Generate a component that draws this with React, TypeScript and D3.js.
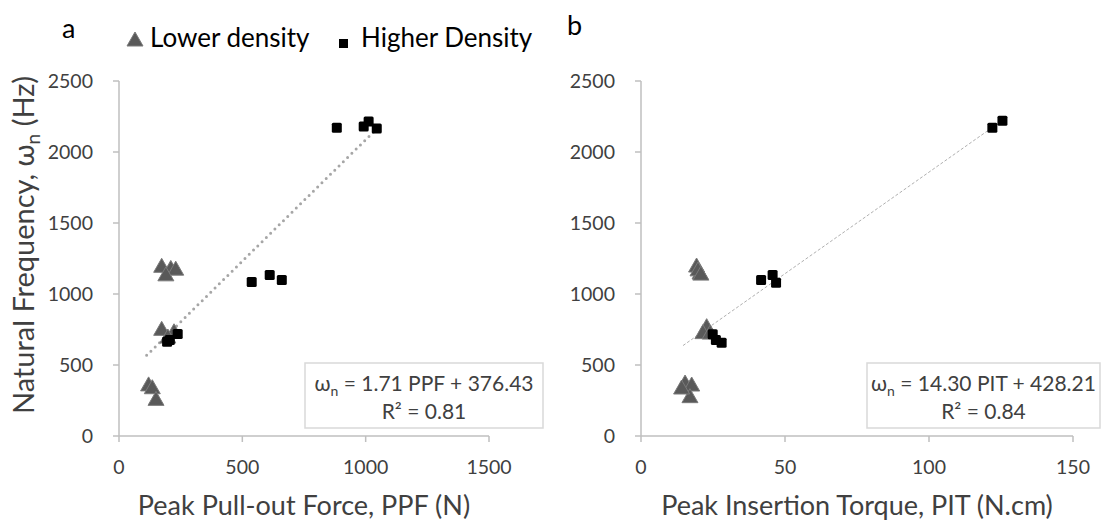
import React from 'react';
import * as d3 from 'd3';

// values
const freqTicks = [0, 500, 1000, 1500, 2000, 2500];
const ppfTicks = [0, 500, 1000, 1500];
const pitTicks = [0, 50, 100, 150];

const ppfLower = [173, 210, 230, 190, 173, 223, 198, 120, 135, 150];
const freqLowerA = [1195, 1180, 1175, 1135, 751, 734, 697, 360, 340, 258];
const ppfHigher = [195, 206, 238, 538, 611, 660, 883, 992, 1012, 1045];
const freqHigherA = [664, 676, 718, 1085, 1134, 1099, 2170, 2180, 2215, 2165];

const pitLower = [19.3, 20.5, 19.8, 20.8, 22.8, 21.5, 24, 15.3, 17.6, 17, 14.1];
const freqLowerB = [1197, 1148, 1170, 1140, 770, 728, 725, 373, 359, 277, 338];
const pitHigher = [24.9, 26, 28, 41.7, 45.7, 46.9, 122, 125.5];
const freqHigherB = [716, 676, 657, 1099, 1134, 1080, 2170, 2220];

const fitA = { slope: 1.71, intercept: 376.43, from: 112, to: 1040 };
const fitB = { slope: 14.3, intercept: 428.21, from: 14.6, to: 126 };

const FONT = 'Lato, "Open Sans", sans-serif';
const AXIS = '#bfbfbf';
const TXT = '#404040';

const yScale = d3.scaleLinear().domain([0, 2500]).range([436, 81]);

const Triangle = ({ x, y }: { x: number; y: number }) => (
  <path
    d={`M${x},${y - 8}L${x + 8},${y + 6}L${x - 8},${y + 6}Z`}
    fill="#595959"
    stroke="#7a7a7a"
    strokeWidth={1}
  />
);

const Square = ({ x, y }: { x: number; y: number }) => (
  <rect x={x - 5} y={y - 5} width={10} height={10} rx={1.5} fill="#000" />
);

interface PanelProps {
  x0: number;
  x1: number;
  xMax: number;
  xTicks: number[];
  lowerX: number[];
  lowerY: number[];
  higherX: number[];
  higherY: number[];
  fit: { slope: number; intercept: number; from: number; to: number };
  dotted: boolean;
  xTitle: string;
  labelRight: number;
  eqRest: string;
  r2: string;
  box: { x: number; w: number };
}

const Panel: React.FC<PanelProps> = (p) => {
  const x = d3.scaleLinear().domain([0, p.xMax]).range([p.x0, p.x1]);
  const y = yScale;
  const line = d3
    .line<number>()
    .x((d) => x(d))
    .y((d) => y(p.fit.slope * d + p.fit.intercept));
  const boxCx = p.box.x + p.box.w / 2;
  return (
    <g fontFamily={FONT}>
      {/* axes */}
      <line x1={p.x0} x2={p.x0} y1={y(2500)} y2={y(0)} stroke={AXIS} strokeWidth={1.5} />
      <line x1={p.x0} x2={p.x1} y1={y(0)} y2={y(0)} stroke={AXIS} strokeWidth={1.5} />
      {freqTicks.map((t) => (
        <g key={'y' + t}>
          <line x1={p.x0 - 6} x2={p.x0} y1={y(t)} y2={y(t)} stroke={AXIS} strokeWidth={1.5} />
          <text x={p.labelRight} y={y(t)} dy="0.35em" textAnchor="end" fontSize={19.5} fill={TXT}>
            {t}
          </text>
        </g>
      ))}
      {p.xTicks.map((t) => (
        <g key={'x' + t}>
          <line x1={x(t)} x2={x(t)} y1={y(0)} y2={y(0) + 6} stroke={AXIS} strokeWidth={1.5} />
          <text x={x(t)} y={467} dy="0.35em" textAnchor="middle" fontSize={19.5} fill={TXT}>
            {t}
          </text>
        </g>
      ))}
      <text x={(p.x0 + p.x1) / 2} y={506} dy="0.35em" textAnchor="middle" fontSize={27} fill={TXT}>
        {p.xTitle}
      </text>

      {/* trend line */}
      <path
        d={line([p.fit.from, p.fit.to]) || ''}
        fill="none"
        stroke={p.dotted ? '#a6a6a6' : '#b0b0b0'}
        strokeWidth={p.dotted ? 3 : 1}
        strokeLinecap={p.dotted ? 'round' : 'butt'}
        strokeDasharray={p.dotted ? '0,6' : '3,2'}
      />

      {/* points */}
      {p.lowerX.map((v, i) => (
        <Triangle key={'l' + i} x={x(v)} y={y(p.lowerY[i])} />
      ))}
      {p.higherX.map((v, i) => (
        <Square key={'h' + i} x={x(v)} y={y(p.higherY[i])} />
      ))}

      {/* equation box */}
      <rect x={p.box.x} y={363} width={p.box.w} height={65} fill="#fff" stroke="#d9d9d9" strokeWidth={1.5} />
      <text x={boxCx} y={391} textAnchor="middle" fontSize={21} fill={TXT}>
        ω<tspan fontSize={14} dy={5}>n</tspan>
        <tspan dy={-5}>{' = ' + p.eqRest}</tspan>
      </text>
      <text x={boxCx} y={419} textAnchor="middle" fontSize={21} fill={TXT}>
        R² = {p.r2}
      </text>
    </g>
  );
};

export default function App() {
  return (
    <svg
      width={1105}
      height={522}
      style={{ position: 'absolute', left: 0, top: 0, background: '#fff' }}
    >
      <g fontFamily={FONT} fill="#000">
        <text x={62} y={38} fontSize={27}>a</text>
        <text x={567} y={35} fontSize={27}>b</text>
        <Triangle x={135} y={40} />
        <text x={150} y={47} fontSize={26} fill="#000">Lower density</text>
        <rect x={339} y={39} width={9} height={9} fill="#000" />
        <text x={361} y={47} fontSize={26} fill="#000">Higher Density</text>
        <text
          transform="translate(24,245) rotate(-90)"
          textAnchor="middle"
          dy="0.35em"
          fontSize={29}
          fill={TXT}
        >
          Natural Frequency, ω<tspan fontSize={19} dy={6}>n</tspan>
          <tspan dy={-6}> (Hz)</tspan>
        </text>
      </g>

      <Panel
        x0={119}
        x1={489}
        xMax={1500}
        xTicks={ppfTicks}
        lowerX={ppfLower}
        lowerY={freqLowerA}
        higherX={ppfHigher}
        higherY={freqHigherA}
        fit={fitA}
        dotted={true}
        xTitle="Peak Pull-out Force, PPF (N)"
        labelRight={93}
        eqRest="1.71 PPF + 376.43"
        r2="0.81"
        box={{ x: 305, w: 238 }}
      />
      <Panel
        x0={641}
        x1={1073}
        xMax={150}
        xTicks={pitTicks}
        lowerX={pitLower}
        lowerY={freqLowerB}
        higherX={pitHigher}
        higherY={freqHigherB}
        fit={fitB}
        dotted={false}
        xTitle="Peak Insertion Torque, PIT (N.cm)"
        labelRight={615}
        eqRest="14.30 PIT + 428.21"
        r2="0.84"
        box={{ x: 867, w: 233 }}
      />
    </svg>
  );
}
